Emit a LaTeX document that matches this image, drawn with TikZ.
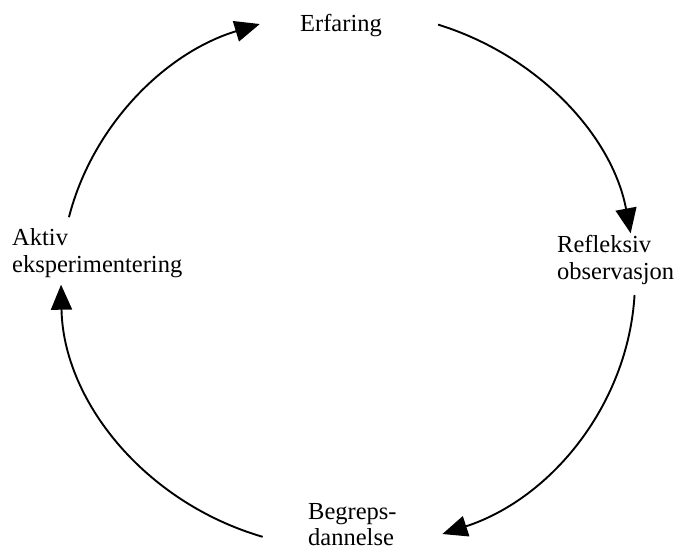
\documentclass[tikz,border=0pt]{standalone}
\usepackage{fontspec}
\setmainfont{Liberation Serif}
\usetikzlibrary{arrows.meta}
\begin{document}
\begin{tikzpicture}[x=1pt,y=1pt,
  stage/.style={inner sep=0pt, font=\fontsize{24.5}{26.5}\selectfont, align=left},
  cyclearc/.style={line width=1.9pt, -{Triangle[length=25pt,width=21pt]}}]
\useasboundingbox (0,0) rectangle (680,550);
% centre of the learning cycle
\coordinate (c) at (348,270);

% the four stages
\node[stage, anchor=base west] (erf) at (300,518) {Erfaring};
\node[stage, anchor=north west] (ref) at (557,314.7) {Refleksiv\\observasjon};
\node[stage, anchor=north west] (beg) at (308,47.2) {Begreps-\\dannelse};
\node[stage, anchor=north west] (akt) at (12,321.7) {Aktiv\\eksperimentering};

% arcs between the stages, along one ellipse
\coordinate (s1) at ([shift={(71.7:287 and 269)}]c);
\coordinate (s2) at ([shift={(-3.2:287 and 269)}]c);
\coordinate (s3) at ([shift={(-107.3:287 and 269)}]c);
\coordinate (s4) at ([shift={(166.5:287 and 269)}]c);

\draw[cyclearc] (s1) arc[start angle=71.7, end angle=10, x radius=287, y radius=269];
\draw[cyclearc] (s2) arc[start angle=-3.2, end angle=-70.8, x radius=287, y radius=269];
\draw[cyclearc] (s3) arc[start angle=-107.3, end angle=-179, x radius=287, y radius=269];
\draw[cyclearc] (s4) arc[start angle=166.5, end angle=107.9, x radius=287, y radius=269];
\end{tikzpicture}
\end{document}
